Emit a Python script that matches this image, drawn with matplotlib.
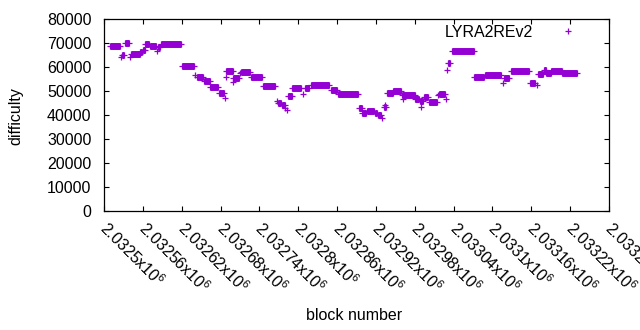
import numpy as np
import matplotlib
matplotlib.use("Agg")
import matplotlib.pyplot as plt

plt.rcParams['font.family'] = ['Liberation Sans', 'DejaVu Sans']
plt.rcParams['mathtext.fontset'] = 'custom'
plt.rcParams['mathtext.rm'] = 'Liberation Sans'
plt.rcParams['mathtext.it'] = 'Liberation Sans'

# ---- data: runs of constant difficulty (first block, last block, difficulty)
run_start = [2032510, 2032528, 2032532, 2032541, 2032556, 2032560, 2032564, 2032571,
             2032583, 2032588, 2032621, 2032643, 2032654, 2032664, 2032677, 2032689,
             2032700, 2032711, 2032727, 2032745, 2032769, 2032775, 2032784, 2032791,
             2032811, 2032819, 2032850, 2032862, 2032894, 2032899, 2032906, 2032919,
             2032923, 2032932, 2032937, 2032947, 2032960, 2032981, 2032988, 2032994,
             2033002, 2033018, 2033031, 2033037, 2033072, 2033089, 2033118, 2033128,
             2033158, 2033171, 2033180, 2033183, 2033191, 2033208]
run_end = [2032525, 2032531, 2032538, 2032555, 2032559, 2032563, 2032570, 2032580,
           2032586, 2032619, 2032639, 2032653, 2032663, 2032676, 2032686, 2032699,
           2032709, 2032725, 2032744, 2032764, 2032773, 2032779, 2032790, 2032804,
           2032817, 2032848, 2032860, 2032892, 2032898, 2032904, 2032917, 2032922,
           2032928, 2032936, 2032946, 2032958, 2032980, 2032987, 2032993, 2033000,
           2033015, 2033027, 2033035, 2033071, 2033087, 2033113, 2033126, 2033157,
           2033166, 2033178, 2033182, 2033190, 2033207, 2033230]
run_value = [68750, 65100, 70000, 65600, 66300, 67200, 69800, 68900,
             68600, 69700, 60600, 56100, 54400, 51800, 49300, 58600,
             55400, 58100, 55800, 52100, 45100, 44100, 48200, 51400,
             51300, 52500, 50400, 48900, 42900, 41100, 41900, 41000,
             40100, 43500, 49400, 50200, 48400, 46900, 45900, 47800,
             45400, 48800, 62000, 67000, 55900, 56800, 55400, 58400,
             53600, 57400, 58900, 57750, 58400, 57750]

# ---- data: isolated blocks
pt_block = [2032526, 2032540, 2032582, 2032641, 2032687, 2032688, 2032700, 2032710,
            2032767, 2032780, 2032783, 2032807, 2032929, 2032934, 2032962, 2032990,
            2033016, 2033029, 2033030, 2033116, 2033169]
pt_value = [64100, 64500, 67000, 56900, 47100, 55800, 53700, 57500,
            46000, 43200, 42200, 48900, 38700, 44300, 46800, 43600,
            48500, 46600, 58700, 53300, 52600]

xtick_values = [2032500 + 60 * k for k in range(14)]
xtick_labels = [r'2.0325x10$^{6}$', r'2.03256x10$^{6}$', r'2.03262x10$^{6}$', r'2.03268x10$^{6}$',
                r'2.03274x10$^{6}$', r'2.0328x10$^{6}$', r'2.03286x10$^{6}$', r'2.03292x10$^{6}$',
                r'2.03298x10$^{6}$', r'2.03304x10$^{6}$', r'2.0331x10$^{6}$', r'2.03316x10$^{6}$',
                r'2.03322x10$^{6}$', r'2.03328x10$^{6}$']
ytick_values = [0, 10000, 20000, 30000, 40000, 50000, 60000, 70000, 80000]

series_name = 'LYRA2REv2'
color = '#9400D3'

W, H = 640, 330
fig = plt.figure(figsize=(W / 100, H / 100), dpi=100)
ax = fig.add_axes([104 / W, 1 - 211.3 / H, (609 - 104) / W, (211.3 - 19.3) / H])

fs = 11.5
ms = 5.0
mew = 0.9

ax.hlines(run_value, run_start, run_end, colors=color, linewidth=ms)
ax.plot(np.concatenate([run_start, run_end]), np.concatenate([run_value, run_value]),
        linestyle='none', marker='+', color=color, markersize=ms, markeredgewidth=mew)
ax.plot(pt_block, pt_value, linestyle='none', marker='+', color=color,
        markersize=ms, markeredgewidth=mew, label=series_name)

ax.set_xlim(xtick_values[0], xtick_values[-1])
ax.set_ylim(0, 80000)
ax.set_yticks(ytick_values)
ax.set_yticklabels([str(v) for v in ytick_values], fontsize=fs)
ax.set_xticks(xtick_values)
ax.set_xticklabels(xtick_labels, fontsize=fs, rotation=-45, ha='left', va='center_baseline',
                   rotation_mode='anchor')

ax.tick_params(axis='both', direction='in', length=3.6, width=0.8, top=True, right=True,
               colors='black')
ax.tick_params(axis='y', pad=9)
ax.tick_params(axis='x', pad=9.0)
for s in ax.spines.values():
    s.set_linewidth(0.9)

fig.text(16 / W, 1 - 116 / H, 'difficulty', rotation=90, ha='center', va='center', fontsize=fs)
fig.text(354 / W, 1 - 315 / H, 'block number', ha='center', va='center', fontsize=fs)

leg = ax.legend(loc='center right', bbox_to_anchor=((583.7 - 104) / 505, (211.3 - 32.3) / 192),
                frameon=False, markerfirst=False, fontsize=fs, handlelength=2.0,
                handletextpad=1.17, borderpad=0, borderaxespad=0, numpoints=1)

fig.savefig('out.png', dpi=100)
